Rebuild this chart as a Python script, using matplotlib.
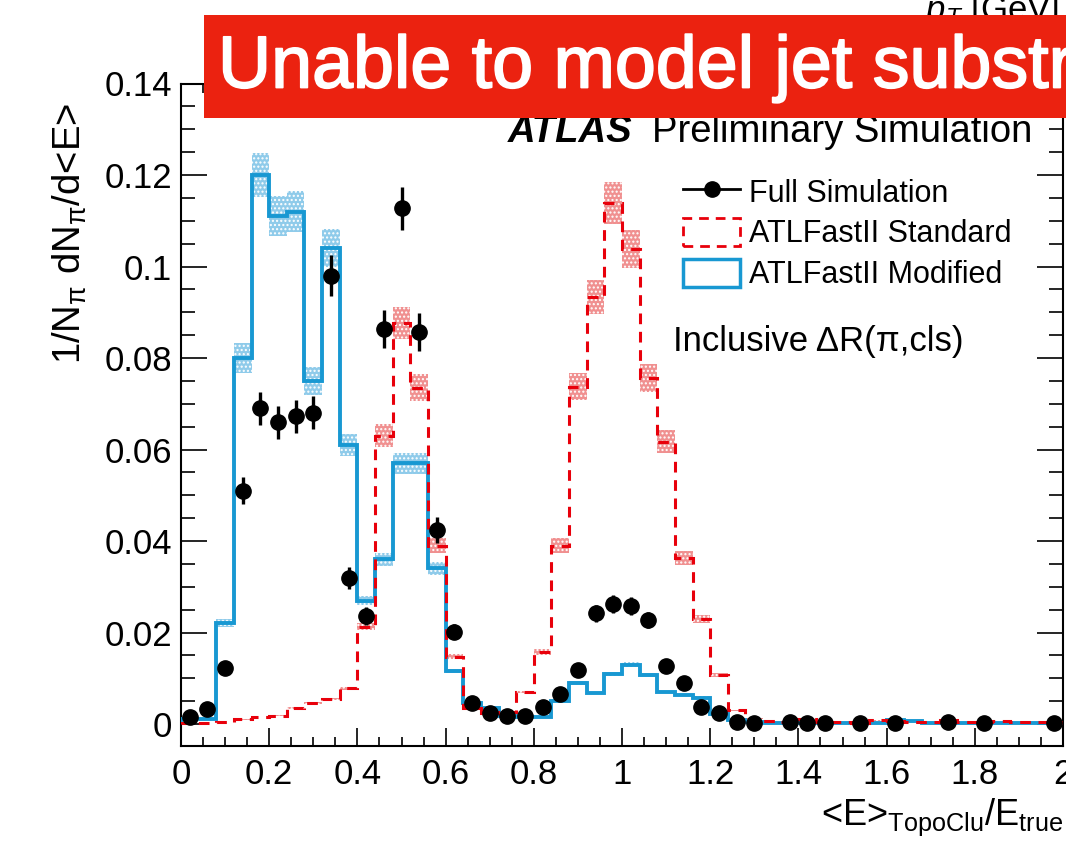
import numpy as np
import matplotlib
matplotlib.use("Agg")
import matplotlib.pyplot as plt
import matplotlib.patheffects as pe
from matplotlib.patches import Rectangle, Patch
from matplotlib.lines import Line2D
from matplotlib.ticker import MultipleLocator, FuncFormatter

plt.rcParams['font.family'] = ['Liberation Sans', 'DejaVu Sans']
plt.rcParams['mathtext.fontset'] = 'custom'
plt.rcParams['mathtext.rm'] = 'Liberation Sans'
plt.rcParams['mathtext.it'] = 'Liberation Sans:italic'
plt.rcParams['mathtext.bf'] = 'Liberation Sans:bold'
plt.rcParams['hatch.linewidth'] = 1.0

# ---------------- data ----------------
bin_lo, bin_hi, bin_w = 0.0, 2.0, 0.04

# ATLFastII Modified (blue), 50 bins of width 0.04
modified = [0.0012, 0.0012, 0.022, 0.080, 0.120, 0.111, 0.112, 0.075, 0.104, 0.061,
            0.027, 0.036, 0.057, 0.057, 0.034, 0.0116, 0.0045, 0.0035, 0.0018, 0.0015,
            0.0015, 0.0050, 0.0090, 0.0068, 0.0110, 0.0130, 0.0107, 0.0070, 0.0063, 0.0058,
            0.0023, 0.0009, 0.0004, 0.0003, 0.0003, 0.0003, 0.0003, 0.0003, 0.0003, 0.0003,
            0.0008, 0.0007, 0.0003, 0.0003, 0.0003, 0.0003, 0.0003, 0.0003, 0.0003, 0.0003]

# ATLFastII Standard (red dashed)
standard = [0.0003, 0.0003, 0.0005, 0.0010, 0.0015, 0.0018, 0.0035, 0.0046, 0.0055, 0.0078,
            0.0213, 0.063, 0.0877, 0.0735, 0.039, 0.0147, 0.0035, 0.0024, 0.0026, 0.0070,
            0.0157, 0.039, 0.0737, 0.0933, 0.1139, 0.1038, 0.0756, 0.0617, 0.0363, 0.023,
            0.0107, 0.0030, 0.0012, 0.0006, 0.0004, 0.0010, 0.0005, 0.0004, 0.0003, 0.0008,
            0.0006, 0.0004, 0.0005, 0.0009, 0.0005, 0.0004, 0.0007, 0.0005, 0.0004, 0.0005]

# relative half-width of the MC uncertainty bands
band_rel = 0.04

# Full Simulation points
full_x = [0.02, 0.06, 0.10, 0.14, 0.18, 0.22, 0.26, 0.30, 0.34, 0.38,
          0.42, 0.46, 0.50, 0.54, 0.58, 0.62, 0.66, 0.70, 0.74, 0.78,
          0.82, 0.86, 0.90, 0.94, 0.98, 1.02, 1.06, 1.10, 1.14, 1.18,
          1.22, 1.26, 1.30, 1.38, 1.42, 1.46, 1.54, 1.62, 1.74, 1.82, 1.98]
full_y = [0.0015, 0.0033, 0.0123, 0.051, 0.069, 0.066, 0.0673, 0.068, 0.098, 0.032,
          0.0236, 0.0863, 0.1127, 0.0857, 0.0424, 0.0202, 0.0046, 0.0025, 0.0017, 0.0017,
          0.0037, 0.0066, 0.0118, 0.0242, 0.0262, 0.0258, 0.0227, 0.0127, 0.0089, 0.0038,
          0.0024, 0.0005, 0.0003, 0.0004, 0.0003, 0.0003, 0.0003, 0.0003, 0.0004, 0.0003, 0.0003]
full_err = [0.0005, 0.0007, 0.0012, 0.0030, 0.0036, 0.0036, 0.0036, 0.0036, 0.0045, 0.0024,
            0.0020, 0.0042, 0.0047, 0.0042, 0.0028, 0.0017, 0.0008, 0.0006, 0.0005, 0.0005,
            0.0007, 0.0009, 0.0012, 0.0018, 0.0019, 0.0019, 0.0018, 0.0012, 0.0010, 0.0007,
            0.0005, 0.0003, 0.0002, 0.0003, 0.0002, 0.0002, 0.0002, 0.0002, 0.0002, 0.0002, 0.0002]

labels = ["Full Simulation", "ATLFastII Standard", "ATLFastII Modified"]

# ---------------- style ----------------
W, H = 1066, 844
blue = '#1898d2'
blue_band = '#8fcbea'
red = '#e8000b'
red_band = '#f09090'

fig = plt.figure(figsize=(W / 100, H / 100), dpi=100)
ax = fig.add_axes([181 / W, (H - 746) / H, (1063 - 181) / W, (746 - 83.5) / H])

edges = np.arange(len(modified) + 1) * bin_w + bin_lo
mod = np.array(modified)
std = np.array(standard)

ax.stairs(mod * (1 + band_rel), edges, baseline=mod * (1 - band_rel), fill=True,
          facecolor=blue_band, edgecolor='white', hatch='....', linewidth=0, zorder=2)
ax.stairs(std * (1 + band_rel), edges, baseline=std * (1 - band_rel), fill=True,
          facecolor=red_band, edgecolor='white', hatch='....', linewidth=0, zorder=2)
ax.stairs(mod, edges, color=blue, linewidth=2.8, zorder=3)
ax.stairs(std, edges, color=red, linewidth=2.2, linestyle=(0, (3.5, 2.5)), zorder=4)
ax.errorbar(full_x, full_y, yerr=full_err, fmt='o', color='black', ms=11,
            elinewidth=2.4, capsize=0, zorder=5)

ax.set_xlim(bin_lo, bin_hi)
ax.set_ylim(-0.0048, 0.14)

ax.xaxis.set_major_locator(MultipleLocator(0.2))
ax.xaxis.set_minor_locator(MultipleLocator(0.05))
ax.yaxis.set_major_locator(MultipleLocator(0.02))
ax.yaxis.set_minor_locator(MultipleLocator(0.005))
fmt = FuncFormatter(lambda v, p: '%g' % round(v, 6))
ax.xaxis.set_major_formatter(fmt)
ax.yaxis.set_major_formatter(fmt)
ax.tick_params(axis='both', which='both', direction='in', top=True, right=True,
               width=1.2, labelsize=25)
ax.tick_params(axis='x', which='major', length=13, pad=9)
ax.tick_params(axis='x', which='minor', length=6.5)
ax.tick_params(axis='y', which='major', length=19, pad=6.5)
ax.tick_params(axis='y', which='minor', length=10)
for s in ax.spines.values():
    s.set_linewidth(1.5)

# legend
handles = [Line2D([], [], color='black', marker='o', ms=11, lw=2),
           Patch(facecolor='white', edgecolor=red, linestyle=(0, (3.5, 2.5)), linewidth=2),
           Patch(facecolor='white', edgecolor=blue, linewidth=2.5)]
fig.legend(handles, labels, loc='upper left', bbox_to_anchor=(683 / W, 1 - 177 / H),
           frameon=False, fontsize=22, handlelength=1.87, handleheight=1.05,
           handletextpad=0.28, labelspacing=0.3, borderpad=0, borderaxespad=0)

fig.text(673 / W, 1 - 342 / H, 'Inclusive ΔR(π,cls)', fontsize=25, va='center', ha='left')

fig.text(508 / W, 1 - 142 / H, 'ATLAS', fontsize=27.5, fontweight='bold',
         fontstyle='italic', va='baseline', ha='left')
fig.text(652 / W, 1 - 142 / H, 'Preliminary Simulation', fontsize=27.5,
         va='baseline', ha='left')

# axis titles
fig.text(1063 / W, (H - 825) / H, r'<E>$_{\mathrm{TopoClu}}$/E$_{\mathrm{true}}$',
         fontsize=26, ha='right', va='baseline')
fig.text(70 / W, 1 - 103 / H, r'1/N$_{\mathrm{\pi}}$ dN$_{\mathrm{\pi}}$/d<E>',
         fontsize=27.5, rotation=90, ha='center', va='top')

# partially hidden top label
fig.text(925 / W, 1 - 20 / H, r'$p_{T}$ [GeV]', fontsize=25, ha='left',
         va='baseline', zorder=1)

# red banner
fig.add_artist(Rectangle((204 / W, 1 - 118 / H), 1 - 204 / W, (118 - 15) / H,
                         transform=fig.transFigure, facecolor='#eb2210',
                         edgecolor='none', zorder=10))
fig.text(218 / W, 1 - 68 / H, 'Unable to model jet substructure', fontsize=53,
         color='white', ha='left', va='center', zorder=11,
         path_effects=[pe.withStroke(linewidth=1.3, foreground='white')])

fig.savefig('out.png', dpi=100)
